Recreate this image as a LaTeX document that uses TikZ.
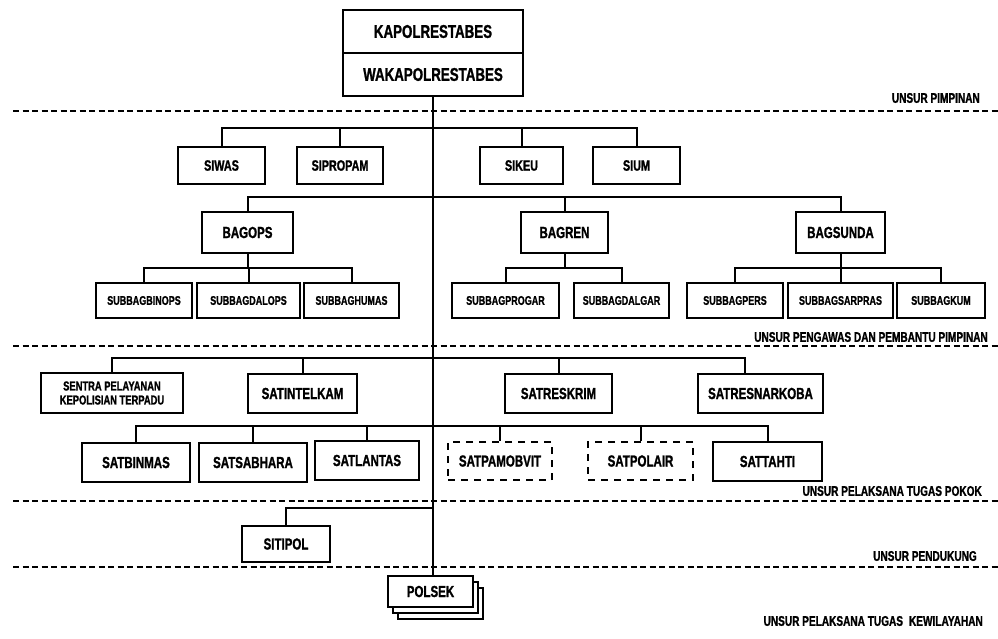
\documentclass[tikz,border=0pt]{standalone}
\usepackage{fontspec}
\setmainfont[FakeStretch=0.72, BoldFeatures={FakeBold=1.2}]{Liberation Sans}
\begin{document}
\begin{tikzpicture}[x=1pt,y=-1pt,
  box/.style={draw, line width=2.3pt, fill=white, inner sep=0pt, align=center, font=\bfseries},
  dbox/.style={box, line width=2pt, dash pattern=on 7pt off 6pt},
  conn/.style={line width=2pt},
  sep/.style={line width=1.8pt, dash pattern=on 6pt off 3.5pt},
  lab/.style={anchor=east, inner sep=0pt, font=\bfseries\fontsize{14}{14}\selectfont},
  fA/.style={font=\bfseries\fontsize{18.5}{20}\selectfont},
  fB/.style={font=\bfseries\fontsize{15}{16}\selectfont},
  fC/.style={font=\bfseries\fontsize{12.5}{13}\selectfont},
  fD/.style={font=\bfseries\fontsize{16}{17}\selectfont}]
\useasboundingbox (0,0) rectangle (998,638);
\fill[white] (0,0) rectangle (998,638);

% separators
\draw[sep] (13,111) -- (998,111);
\draw[sep] (13,346) -- (998,346);
\draw[sep] (13,501) -- (998,501);
\draw[sep] (13,567) -- (998,567);

% labels
\node[lab] (l1) at (980,98) {UNSUR PIMPINAN};
\node[lab] (l2) at (988,337) {UNSUR PENGAWAS DAN PEMBANTU PIMPINAN};
\node[lab] (l3) at (982,491) {UNSUR PELAKSANA TUGAS POKOK};
\node[lab] (l4) at (977,556) {UNSUR PENDUKUNG};
\node[lab] (l5) at (983,621) {UNSUR PELAKSANA TUGAS\hspace{6pt}KEWILAYAHAN};

% top
\node[box, fA, minimum width=180, minimum height=43] (kapol) at (433,31.5) {KAPOLRESTABES};
\node[box, fA, minimum width=180, minimum height=43] (waka) at (433,74.5) {WAKAPOLRESTABES};

% POLSEK stack
\node[box, minimum width=85, minimum height=31] (p3) at (440.5,603.5) {};
\node[box, minimum width=85, minimum height=31] (p2) at (435.5,597.5) {};
\node[box, fD, minimum width=85, minimum height=31] (polsek) at (430.5,591.5) {POLSEK};

% trunk
\draw[line width=2.3pt] (waka.south) -- (waka.south |- polsek.north);

% row 1
\coordinate (y1) at (0,128);
\node[box, fB, minimum width=87, minimum height=37] (siwas) at (221.5,165.5) {SIWAS};
\node[box, fB, minimum width=86, minimum height=37] (sipropam) at (340,165.5) {SIPROPAM};
\node[box, fB, minimum width=83, minimum height=37] (sikeu) at (521.5,165.5) {SIKEU};
\node[box, fB, minimum width=87, minimum height=37] (sium) at (636.5,165.5) {SIUM};
\draw[conn] (siwas.north) |- (y1 -| sium.north) -- (sium.north);
\draw[conn] (sipropam.north) -- (sipropam.north |- y1);
\draw[conn] (sikeu.north) -- (sikeu.north |- y1);

% row 2
\coordinate (y2) at (0,197);
\node[box, fD, minimum width=91, minimum height=41] (bagops) at (247.5,232.5) {BAGOPS};
\node[box, fD, minimum width=87, minimum height=41] (bagren) at (564.5,232.5) {BAGREN};
\node[box, fD, minimum width=89, minimum height=41] (bagsunda) at (840.5,232.5) {BAGSUNDA};
\draw[conn] (bagops.north) |- (y2 -| bagsunda.north) -- (bagsunda.north);
\draw[conn] (bagren.north) -- (bagren.north |- y2);

% row 3
\coordinate (y3) at (0,268);
\node[box, fC, minimum width=96, minimum height=35] (binops) at (144,300.5) {SUBBAGBINOPS};
\node[box, fC, minimum width=103, minimum height=35] (dalops) at (248.5,300.5) {SUBBAGDALOPS};
\node[box, fC, minimum width=95, minimum height=35] (humas) at (351.5,300.5) {SUBBAGHUMAS};
\node[box, fC, minimum width=107, minimum height=35] (progar) at (505.5,300.5) {SUBBAGPROGAR};
\node[box, fC, minimum width=95, minimum height=35] (dalgar) at (621.5,300.5) {SUBBAGDALGAR};
\node[box, fC, minimum width=96, minimum height=35] (pers) at (735,300.5) {SUBBAGPERS};
\node[box, fC, minimum width=105, minimum height=35] (sarpras) at (840.5,300.5) {SUBBAGSARPRAS};
\node[box, fC, minimum width=88, minimum height=35] (kum) at (941,300.5) {SUBBAGKUM};
\draw[conn] (binops.north) |- (y3 -| humas.north) -- (humas.north);
\draw[conn] (bagops.south) -- (bagops.south |- y3);
\draw[conn] (dalops.north) -- (dalops.north |- y3);
\draw[conn] (progar.north) |- (y3 -| dalgar.north) -- (dalgar.north);
\draw[conn] (bagren.south) -- (bagren.south |- y3);
\draw[conn] (pers.north) |- (y3 -| kum.north) -- (kum.north);
\draw[conn] (bagsunda.south) -- (sarpras.north);

% row 4
\coordinate (y4) at (0,358);
\coordinate (nkdrop) at (745,358);
\node[box, font=\bfseries\fontsize{13}{14}\selectfont, minimum width=142, minimum height=40] (sentra) at (112,393) {SENTRA PELAYANAN\\KEPOLISIAN TERPADU};
\node[box, fD, minimum width=109, minimum height=39] (intelkam) at (302.5,393.5) {SATINTELKAM};
\node[box, fD, minimum width=107, minimum height=39] (reskrim) at (558.5,393.5) {SATRESKRIM};
\node[box, fD, minimum width=125, minimum height=39] (narkoba) at (760.5,393.5) {SATRESNARKOBA};
\draw[conn] (sentra.north) |- (nkdrop) -- (nkdrop |- narkoba.north);
\draw[conn] (intelkam.north) -- (intelkam.north |- y4);
\draw[conn] (reskrim.north) -- (reskrim.north |- y4);

% row 5
\coordinate (y5) at (0,426);
\node[box, fD, minimum width=108, minimum height=39] (binmas) at (136,462.5) {SATBINMAS};
\node[box, fD, minimum width=108, minimum height=39] (sabhara) at (253,462.5) {SATSABHARA};
\node[box, fD, minimum width=104, minimum height=39] (lantas) at (367,460.5) {SATLANTAS};
\node[dbox, fD, minimum width=104, minimum height=38] (pamobvit) at (500,461) {SATPAMOBVIT};
\node[dbox, fD, minimum width=105, minimum height=38] (polair) at (640.5,461) {SATPOLAIR};
\node[box, fD, minimum width=109, minimum height=39] (tahti) at (767.5,461.5) {SATTAHTI};
\draw[conn] (binmas.north) |- (y5 -| tahti.north) -- (tahti.north);
\draw[conn] (sabhara.north) -- (sabhara.north |- y5);
\draw[conn] (lantas.north) -- (lantas.north |- y5);
\draw[conn] (pamobvit.north) -- (pamobvit.north |- y5);
\draw[conn] (polair.north) -- (polair.north |- y5);

% row 6
\coordinate (s6) at (432,508);
\node[box, fD, minimum width=88, minimum height=36] (sitipol) at (286,544) {SITIPOL};
\draw[conn] (sitipol.north) |- (s6);
\end{tikzpicture}
\end{document}
